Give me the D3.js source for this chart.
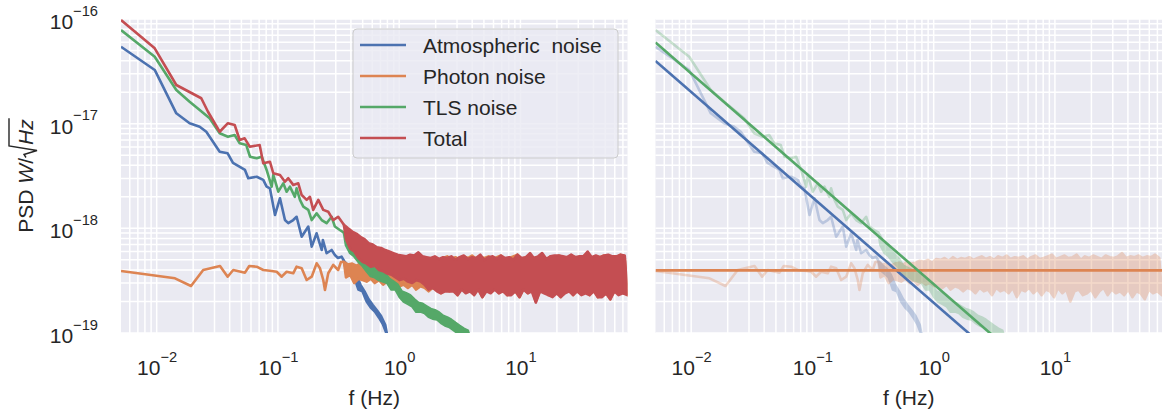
<!DOCTYPE html>
<html>
<head>
<meta charset="utf-8">
<title>PSD noise</title>
<script src="https://cdn.jsdelivr.net/npm/d3@7"></script>
<style>
  body { margin: 0; background: #fff; }
  svg text { font-family: "Liberation Sans", Arial, sans-serif; fill: #262626; }
</style>
</head>
<body>
<div id="container"></div>
<script>
// ---- data (f in Hz, PSD in W/sqrt(Hz)) ----
const atmFreq = [0.00508, 0.00964, 0.01452, 0.0187, 0.02264, 0.02566, 0.0331, 0.0385, 0.0426, 0.0535, 0.0569, 0.0668, 0.0757, 0.0807, 0.0859, 0.0946, 0.104, 0.1143, 0.1217, 0.1337, 0.1426, 0.157, 0.178, 0.190, 0.2085, 0.2296, 0.235, 0.252, 0.2773, 0.295, 0.3126, 0.335];
const atmPsd = [5.43e-17, 3.26e-17, 1.256e-17, 1.008e-17, 9.35e-18, 8.37e-18, 5.40e-18, 5.21e-18, 4.21e-18, 3.61e-18, 3.01e-18, 3.11e-18, 2.90e-18, 2.50e-18, 2.41e-18, 1.34e-18, 1.94e-18, 1.20e-18, 1.12e-18, 1.20e-18, 1.29e-18, 8.32e-19, 1.04e-18, 6.68e-19, 8.97e-19, 6.21e-19, 7.74e-19, 5.78e-19, 6.21e-19, 5.56e-19, 5.21e-19, 5.36e-19];

const photonFreq = [0.00508, 0.01416, 0.0192, 0.0242, 0.0333, 0.0385, 0.0428, 0.0535, 0.058, 0.0668, 0.0757, 0.0859, 0.0977, 0.1074, 0.118, 0.1337, 0.1426, 0.157, 0.1726, 0.190, 0.2085, 0.2223, 0.2366, 0.2443, 0.260, 0.2858, 0.314, 0.331];
const photonPsd = [3.91e-19, 3.33e-19, 2.81e-19, 4.00e-19, 4.37e-19, 3.45e-19, 4.00e-19, 3.77e-19, 4.37e-19, 4.30e-19, 4.00e-19, 3.94e-19, 3.85e-19, 3.45e-19, 3.85e-19, 3.72e-19, 4.30e-19, 4.15e-19, 3.21e-19, 3.45e-19, 4.63e-19, 4.15e-19, 3.21e-19, 2.58e-19, 3.72e-19, 4.47e-19, 4.00e-19, 4.77e-19];

const tlsFreq = [0.00508, 0.00964, 0.01452, 0.0187, 0.02264, 0.02735, 0.0331, 0.0387, 0.0440, 0.0484, 0.0548, 0.0589, 0.0668, 0.0735, 0.0807, 0.0888, 0.0916, 0.1007, 0.1107, 0.118, 0.1256, 0.138, 0.1426, 0.152, 0.162, 0.178, 0.190, 0.2085, 0.2296, 0.252, 0.2773, 0.295, 0.324];
const tlsPsd = [7.85e-17, 4.36e-17, 2.10e-17, 1.62e-17, 1.35e-17, 1.125e-17, 8.09e-18, 7.51e-18, 7.80e-18, 6.49e-18, 6.25e-18, 4.83e-18, 4.67e-18, 4.83e-18, 3.61e-18, 2.50e-18, 3.24e-18, 2.24e-18, 2.69e-18, 2.24e-18, 2.50e-18, 2.00e-18, 2.41e-18, 1.87e-18, 1.61e-18, 1.50e-18, 1.20e-18, 1.39e-18, 1.20e-18, 1.12e-18, 1.29e-18, 1.04e-18, 9.64e-19];

const totalFreq = [0.00508, 0.00964, 0.01452, 0.02333, 0.0265, 0.0331, 0.0387, 0.0440, 0.0484, 0.0532, 0.0585, 0.0707, 0.0757, 0.0859, 0.0916, 0.104, 0.1143, 0.1217, 0.1337, 0.1472, 0.157, 0.1726, 0.1837, 0.1955, 0.2153, 0.2366, 0.260, 0.2858, 0.314];
const totalPsd = [9.78e-17, 5.25e-17, 2.34e-17, 1.75e-17, 1.30e-17, 8.37e-18, 1.01e-17, 9.71e-18, 6.98e-18, 7.24e-18, 6.03e-18, 6.25e-18, 4.18e-18, 4.33e-18, 3.36e-18, 3.24e-18, 2.79e-18, 3.01e-18, 2.60e-18, 2.69e-18, 2.08e-18, 1.87e-18, 2.00e-18, 1.50e-18, 1.87e-18, 1.50e-18, 1.44e-18, 1.20e-18, 1.29e-18];

// noisy high frequency part: frequencies shared by all tails,
// values alternate peak (even index) / trough (odd index) of the noise band
const fTail = [0.35, 0.364, 0.379, 0.394, 0.41, 0.426, 0.443, 0.461, 0.479, 0.498,
  0.518, 0.539, 0.56, 0.583, 0.606, 0.63, 0.655, 0.682, 0.709, 0.737,
  0.767, 0.797, 0.829, 0.863, 0.897, 0.933, 0.97, 1.01, 1.05, 1.09,
  1.14, 1.18, 1.23, 1.28, 1.33, 1.38, 1.44, 1.5, 1.56, 1.62,
  1.68, 1.75, 1.82, 1.89, 1.97, 2.05, 2.13, 2.21, 2.3, 2.39,
  2.49, 2.59, 2.69, 2.8, 2.91, 3.03, 3.15, 3.28, 3.41, 3.54,
  3.69, 3.83, 3.99, 4.15, 4.31, 4.48, 4.66, 4.85, 5.05, 5.25,
  5.46, 5.68, 5.9, 6.14, 6.39, 6.64, 6.91, 7.18, 7.47, 7.77,
  8.08, 8.4, 8.74, 9.09, 9.45, 9.83, 10.2, 10.6, 11.1, 11.5,
  12.0, 12.4, 12.9, 13.4, 14.0, 14.5, 15.1, 15.7, 16.4, 17.0,
  17.7, 18.4, 19.1, 19.9, 20.7, 21.5, 22.4, 23.3, 24.2, 25.2,
  26.2, 27.2, 28.3, 29.4, 30.6, 31.8, 33.1, 34.4, 35.8, 37.2,
  38.7, 40.3, 41.9, 43.5, 45.3, 47.1, 49.0, 50.9, 53.0, 55.1,
  57.3, 59.6, 62.0, 64.4, 67.0, 69.7, 72.5, 76.4];

const atmTail = [4.9e-19, 4.0e-19, 4.4e-19, 3.7e-19, 4.1e-19, 3.4e-19, 3.6e-19, 2.6e-19, 2.9e-19, 2.5e-19,
  2.5e-19, 2.0e-19, 2.1e-19, 1.75e-19, 1.85e-19, 1.6e-19, 1.65e-19, 1.4e-19, 1.45e-19, 1.2e-19,
  1.2e-19, 0.95e-19];

const tlsTail = [9.1e-19, 6.9e-19, 7.7e-19, 5.8e-19, 6.9e-19, 5.4e-19, 6.2e-19, 4.8e-19, 5.6e-19, 4.4e-19,
  5.1e-19, 3.9e-19, 4.4e-19, 3.5e-19, 4.2e-19, 3.4e-19, 4.0e-19, 3.2e-19, 3.8e-19, 3.1e-19,
  3.7e-19, 3.0e-19, 3.3e-19, 2.6e-19, 3.1e-19, 2.6e-19, 2.9e-19, 2.2e-19, 2.5e-19, 2.0e-19,
  2.4e-19, 1.9e-19, 2.3e-19, 1.8e-19, 2.1e-19, 1.6e-19, 1.95e-19, 1.6e-19, 1.9e-19, 1.55e-19,
  1.8e-19, 1.43e-19, 1.7e-19, 1.37e-19, 1.65e-19, 1.35e-19, 1.57e-19, 1.25e-19, 1.46e-19, 1.18e-19,
  1.41e-19, 1.14e-19, 1.34e-19, 1.07e-19, 1.25e-19, 1.0e-19, 1.17e-19, 0.94e-19, 1.1e-19, 0.9e-19,
  1.05e-19, 0.9e-19];

const photonTail = [4.8e-19, 3.4e-19, 4.5e-19, 3.6e-19, 4.6e-19, 3.0e-19, 4.4e-19, 3.3e-19, 4.6e-19, 3.2e-19,
  4.7e-19, 3.1e-19, 4.5e-19, 3.3e-19, 4.8e-19, 3.0e-19, 4.6e-19, 3.2e-19, 4.7e-19, 2.9e-19,
  4.9e-19, 3.1e-19, 4.8e-19, 2.9e-19, 5.0e-19, 3.0e-19, 4.7e-19, 2.8e-19, 5.1e-19, 2.9e-19,
  5.0e-19, 2.7e-19, 5.2e-19, 2.9e-19, 4.9e-19, 2.6e-19, 5.3e-19, 2.8e-19, 5.0e-19, 2.7e-19,
  5.2e-19, 2.5e-19, 5.1e-19, 2.7e-19, 5.3e-19, 2.6e-19, 5.0e-19, 2.4e-19, 5.2e-19, 2.7e-19,
  5.4e-19, 2.5e-19, 5.1e-19, 2.6e-19, 5.3e-19, 2.3e-19, 5.0e-19, 2.7e-19, 5.4e-19, 2.5e-19,
  5.2e-19, 2.6e-19, 5.5e-19, 2.4e-19, 5.1e-19, 2.7e-19, 5.3e-19, 2.2e-19, 5.2e-19, 2.6e-19,
  5.4e-19, 2.5e-19, 5.0e-19, 2.7e-19, 5.3e-19, 2.4e-19, 5.5e-19, 2.6e-19, 5.1e-19, 2.3e-19,
  5.2e-19, 2.6e-19, 5.4e-19, 2.5e-19, 5.6e-19, 2.2e-19, 5.1e-19, 2.7e-19, 5.3e-19, 2.4e-19,
  5.5e-19, 2.6e-19, 5.2e-19, 2.0e-19, 5.3e-19, 2.5e-19, 5.6e-19, 2.6e-19, 5.0e-19, 2.3e-19,
  5.4e-19, 2.4e-19, 5.2e-19, 2.6e-19, 5.5e-19, 2.2e-19, 5.3e-19, 2.5e-19, 5.1e-19, 2.7e-19,
  5.5e-19, 2.3e-19, 5.3e-19, 2.6e-19, 5.2e-19, 2.4e-19, 5.4e-19, 2.5e-19, 5.8e-19, 2.3e-19,
  5.2e-19, 2.6e-19, 5.4e-19, 2.2e-19, 5.3e-19, 2.5e-19, 5.5e-19, 2.4e-19, 5.2e-19, 2.1e-19,
  5.4e-19, 2.6e-19, 5.3e-19, 2.4e-19, 5.6e-19, 2.5e-19, 5.2e-19, 2.3e-19];

const totalTail = [1.08e-18, 7.9e-19, 1.0e-18, 6.4e-19, 9.3e-19, 6.0e-19, 8.9e-19, 5.2e-19, 8.3e-19, 4.8e-19,
  7.9e-19, 4.6e-19, 7.2e-19, 4.3e-19, 7.0e-19, 4.4e-19, 6.6e-19, 4.0e-19, 6.5e-19, 3.9e-19,
  6.2e-19, 3.7e-19, 6.0e-19, 3.6e-19, 5.8e-19, 3.4e-19, 5.6e-19, 3.2e-19, 5.5e-19, 3.3e-19,
  5.4e-19, 3.1e-19, 5.6e-19, 3.0e-19, 5.5e-19, 3.2e-19, 5.9e-19, 3.1e-19, 5.4e-19, 2.9e-19,
  5.3e-19, 2.6e-19, 5.2e-19, 2.7e-19, 5.4e-19, 2.5e-19, 5.1e-19, 2.4e-19, 5.3e-19, 2.5e-19,
  5.2e-19, 2.5e-19, 5.4e-19, 2.5e-19, 5.0e-19, 2.3e-19, 5.3e-19, 2.6e-19, 5.5e-19, 2.4e-19,
  5.1e-19, 2.5e-19, 5.3e-19, 2.3e-19, 5.2e-19, 2.6e-19, 5.6e-19, 2.2e-19, 5.0e-19, 2.5e-19,
  5.3e-19, 2.4e-19, 5.4e-19, 2.6e-19, 5.1e-19, 2.4e-19, 5.5e-19, 2.5e-19, 5.2e-19, 2.3e-19,
  5.3e-19, 2.3e-19, 5.0e-19, 2.5e-19, 5.6e-19, 2.2e-19, 5.2e-19, 2.6e-19, 5.3e-19, 2.4e-19,
  5.8e-19, 2.5e-19, 5.2e-19, 1.95e-19, 5.4e-19, 2.5e-19, 5.8e-19, 2.4e-19, 5.1e-19, 2.3e-19,
  5.4e-19, 2.2e-19, 5.5e-19, 2.4e-19, 5.5e-19, 2.2e-19, 5.4e-19, 2.4e-19, 5.3e-19, 2.5e-19,
  5.6e-19, 2.3e-19, 5.3e-19, 2.5e-19, 5.4e-19, 2.3e-19, 5.4e-19, 2.4e-19, 6.0e-19, 2.3e-19,
  5.3e-19, 2.5e-19, 5.5e-19, 2.2e-19, 5.3e-19, 2.2e-19, 5.5e-19, 2.4e-19, 5.6e-19, 2.1e-19,
  5.4e-19, 2.5e-19, 5.4e-19, 2.3e-19, 5.6e-19, 2.4e-19, 5.5e-19, 2.3e-19];

// straight power-law fits of the right panel (end points)
const fitFreq = [0.00508, 76.4];
const atmFit = [3.97e-17, 2.47e-21];
const photonFit = [3.97e-19, 3.97e-19];
const tlsFit = [5.98e-17, 3.72e-21];

const legendLabels = ["Atmospheric  noise", "Photon noise", "TLS noise", "Total"];
const xTickValues = [0.01, 0.1, 1, 10];
const yTickValues = [1e-19, 1e-18, 1e-17, 1e-16];

// ---- layout ----
const width = 1162, height = 419;
const plotTop = 19, plotH = 314, plotW = 506.5;
const colors = {atm: "#4C72B0", photon: "#DD8452", tls: "#55A868", total: "#C44E52"};
const lw = 2.6;

const svg = d3.select("#container").append("svg")
  .attr("width", width)
  .attr("height", height);

const x = d3.scaleLog().domain([0.00508, 76.4]).range([0, plotW]);
const y = d3.scaleLog().domain([1e-19, 1e-16]).range([plotH, 0]);

const line = d3.line()
  .x(d => x(d[0]))
  .y(d => y(d[1]));

const zip = (fs, vs) => vs.map((v, i) => [fs[i], v]);

// one series = low frequency line + dense noise band (peaks on top, troughs below)
function series(freq, psd, tail, color) {
  const t = zip(fTail, tail);
  const low = zip(freq, psd).concat([t[0]]);
  const band = t.filter((d, i) => i % 2 === 0)
    .concat(t.filter((d, i) => i % 2 === 1).reverse());
  return {low, band, color};
}
const atm = series(atmFreq, atmPsd, atmTail, colors.atm);
const photon = series(photonFreq, photonPsd, photonTail, colors.photon);
const tls = series(tlsFreq, tlsPsd, tlsTail, colors.tls);
const total = series(totalFreq, totalPsd, totalTail, colors.total);

function drawSeries(parent, s, opacity) {
  const g = parent.append("g").attr("opacity", opacity);
  g.append("path").datum(s.low)
    .attr("d", line)
    .attr("fill", "none")
    .attr("stroke", s.color)
    .attr("stroke-width", lw)
    .attr("stroke-linejoin", "round");
  g.append("path").datum(s.band)
    .attr("d", d => line(d) + "Z")
    .attr("fill", s.color)
    .attr("stroke", s.color)
    .attr("stroke-width", lw)
    .attr("stroke-linejoin", "round");
}

function expLabel(sel) {
  sel.each(function(d) {
    const t = d3.select(this);
    const e = Math.round(Math.log10(d));
    t.text(null).attr("dy", null);
    t.append("tspan").text("10");
    t.append("tspan").attr("dy", -13.5).attr("font-size", 14.7)
      .text(String(e).replace("-", "\u2212"));
  });
}

function makePanel(x0, id) {
  const g = svg.append("g").attr("transform", `translate(${x0},${plotTop})`);
  g.append("rect").attr("width", plotW).attr("height", plotH).attr("fill", "#EAEAF2");
  g.append("clipPath").attr("id", id).append("rect").attr("width", plotW).attr("height", plotH);

  // grid (major + minor)
  g.append("g").selectAll("line").data(x.ticks()).join("line")
    .attr("x1", d => x(d)).attr("x2", d => x(d))
    .attr("y1", 0).attr("y2", plotH)
    .attr("stroke", "#fff").attr("stroke-width", 1.5);
  g.append("g").selectAll("line").data(y.ticks()).join("line")
    .attr("y1", d => y(d)).attr("y2", d => y(d))
    .attr("x1", 0).attr("x2", plotW)
    .attr("stroke", "#fff").attr("stroke-width", 1.5);

  // x axis
  const ax = g.append("g").attr("transform", `translate(0,${plotH})`)
    .call(d3.axisBottom(x).tickValues(xTickValues).tickSize(0).tickPadding(42))
    .attr("font-size", 21).attr("font-family", null);
  ax.select(".domain").remove();
  ax.selectAll("text").call(expLabel);

  g.append("text")
    .attr("x", plotW / 2).attr("y", 405 - plotTop)
    .attr("text-anchor", "middle").attr("font-size", 21)
    .text("f (Hz)");

  const plot = g.append("g").attr("clip-path", `url(#${id})`);
  return {g, plot};
}

// ---- left panel ----
const left = makePanel(121, "clipL");
const ay = left.g.append("g")
  .call(d3.axisLeft(y).tickValues(yTickValues).tickSize(0).tickPadding(23))
  .attr("font-size", 21).attr("font-family", null);
ay.select(".domain").remove();
ay.selectAll("text").call(expLabel).attr("y", 9.5);

[atm, photon, tls, total].forEach(s => drawSeries(left.plot, s, 1));

// legend
const legend = left.g.append("g").attr("transform", "translate(232,10)");
legend.append("rect")
  .attr("width", 265).attr("height", 129).attr("rx", 4)
  .attr("fill", "#EAEAF2").attr("fill-opacity", 0.8)
  .attr("stroke", "#cccccc").attr("stroke-width", 1);
const legColors = [colors.atm, colors.photon, colors.tls, colors.total];
const rows = legend.selectAll("g.row").data(legendLabels).join("g")
  .attr("class", "row")
  .attr("transform", (d, i) => `translate(0,${16 + i * 31})`);
rows.append("line")
  .attr("x1", 7).attr("x2", 53)
  .attr("stroke", (d, i) => legColors[i]).attr("stroke-width", lw);
rows.append("text")
  .attr("x", 70).attr("y", 7.5)
  .attr("font-size", 21)
  .style("white-space", "pre")
  .text(d => d);

// y label  PSD W/sqrt(Hz)
const yl = svg.append("g").attr("transform", "translate(33,176) rotate(-90)");
const ylt = yl.append("text").attr("text-anchor", "middle").attr("font-size", 21);
ylt.append("tspan").text("PSD ");
ylt.append("tspan").attr("font-style", "italic").text("W");
ylt.append("tspan").text("/");
ylt.append("tspan").attr("font-style", "italic").attr("dx", 13).text("Hz");
{
  const n = ylt.node();
  const slash = n.getExtentOfChar(5);
  const h = n.getExtentOfChar(6);
  const z = n.getExtentOfChar(7);
  const x0 = slash.x + slash.width + 0.5;
  const top = -24;
  yl.append("path")
    .attr("d", `M${x0},-7 L${x0 + 3},-9 L${x0 + 7},4 L${h.x - 1},${top} L${z.x + z.width + 1},${top}`)
    .attr("fill", "none").attr("stroke", "#262626").attr("stroke-width", 1.4);
}

// ---- right panel: measured spectra faded, fits on top ----
const right = makePanel(655.5, "clipR");
[atm, photon, tls].forEach(s => drawSeries(right.plot, s, 0.3));
[[atmFit, colors.atm], [photonFit, colors.photon], [tlsFit, colors.tls]].forEach(([v, c]) => {
  right.plot.append("path").datum(zip(fitFreq, v))
    .attr("d", line)
    .attr("fill", "none")
    .attr("stroke", c)
    .attr("stroke-width", lw);
});
</script>
</body>
</html>
